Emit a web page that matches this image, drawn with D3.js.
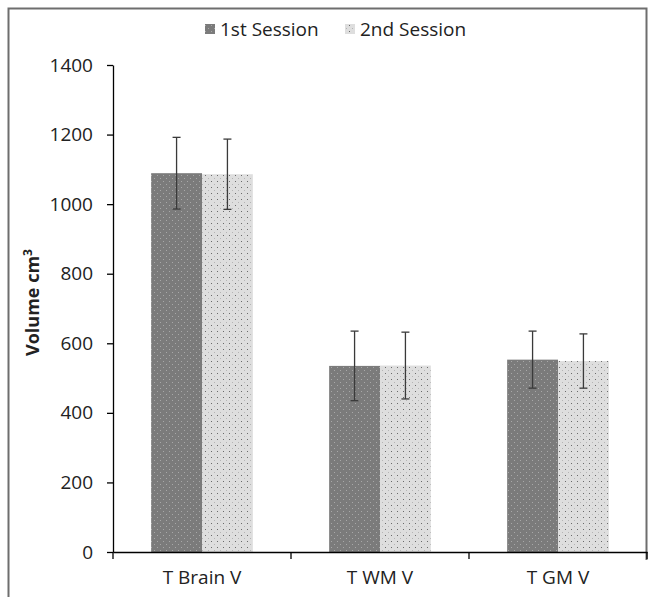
<!DOCTYPE html>
<html>
<head>
<meta charset="utf-8">
<script src="https://cdn.jsdelivr.net/npm/d3@7"></script>
<style>
  body { margin: 0; background: #fff; }
  svg text { font-family: "Open Sans", "Noto Sans", sans-serif; fill: #222; }
</style>
</head>
<body>
<div id="chart"></div>
<script>
// data
const categories = ["T Brain V", "T WM V", "T GM V"];
const sessions = ["1st Session", "2nd Session"];
const session1 = [1089, 535, 553];
const session2 = [1086, 536, 549];
const err1 = [103, 100, 82];
const err2 = [101, 96, 78];
const yTicks = [0, 200, 400, 600, 800, 1000, 1200, 1400];

const width = 653, height = 597;
const margin = {left: 113, right: 6, top: 65, bottom: 45};

const svg = d3.select("#chart")
    .append("svg")
    .attr("width", width)
    .attr("height", height);

// dotted fills
const defs = svg.append("defs");
const pDark = defs.append("pattern").attr("id", "dark")
    .attr("patternUnits", "userSpaceOnUse").attr("width", 6).attr("height", 6);
pDark.append("rect").attr("width", 6).attr("height", 6).attr("fill", "#7b7b7b");
pDark.append("rect").attr("x", 1).attr("y", 1).attr("width", 1).attr("height", 1).attr("fill", "#a8a8a8");
pDark.append("rect").attr("x", 4).attr("y", 4).attr("width", 1).attr("height", 1).attr("fill", "#a8a8a8");

const pLight = defs.append("pattern").attr("id", "light")
    .attr("patternUnits", "userSpaceOnUse").attr("width", 6).attr("height", 6);
pLight.append("rect").attr("width", 6).attr("height", 6).attr("fill", "#dedede");
pLight.append("rect").attr("x", 1).attr("y", 1).attr("width", 1).attr("height", 1).attr("fill", "#6a6a6a");
pLight.append("rect").attr("x", 4).attr("y", 4).attr("width", 1).attr("height", 1).attr("fill", "#b5b5b5");

const fills = ["url(#dark)", "url(#light)"];

// outer frame
svg.append("path")
    .attr("d", "M8.5,597 V8.5 H646.5 V560")
    .attr("fill", "none")
    .attr("stroke", "#6e6e6e")
    .attr("stroke-width", 2);

const x = d3.scaleBand()
    .domain(categories)
    .range([margin.left, width - margin.right]);

const y = d3.scaleLinear()
    .domain([0, 1400])
    .range([height - margin.bottom, margin.top]);

const inner = d3.scaleBand()
    .domain(sessions)
    .range([0, x.bandwidth()])
    .paddingOuter(0.75);

const rows = [];
categories.forEach((c, i) => {
    rows.push({cat: c, s: 0, v: session1[i], e: err1[i]});
    rows.push({cat: c, s: 1, v: session2[i], e: err2[i]});
});

svg.append("g")
    .selectAll("rect")
    .data(rows)
    .enter()
    .append("rect")
    .attr("x", d => x(d.cat) + inner(sessions[d.s]))
    .attr("y", d => y(d.v))
    .attr("width", inner.bandwidth())
    .attr("height", d => y(0) - y(d.v))
    .attr("fill", d => fills[d.s]);

// error bars
const eb = svg.append("g").attr("stroke", "#3a3a3a").attr("stroke-width", 1.3);
rows.forEach(d => {
    const cx = x(d.cat) + inner(sessions[d.s]) + inner.bandwidth() / 2;
    eb.append("line").attr("x1", cx).attr("x2", cx).attr("y1", y(d.v + d.e)).attr("y2", y(d.v - d.e));
    eb.append("line").attr("x1", cx - 4).attr("x2", cx + 4).attr("y1", y(d.v + d.e)).attr("y2", y(d.v + d.e));
    eb.append("line").attr("x1", cx - 4).attr("x2", cx + 4).attr("y1", y(d.v - d.e)).attr("y2", y(d.v - d.e));
});

// axes
const yAxis = svg.append("g")
    .attr("transform", "translate(" + margin.left + ",0)")
    .call(d3.axisLeft(y).tickValues(yTicks).tickFormat(d3.format("d"))
        .tickSize(6).tickPadding(14).tickSizeOuter(0));
yAxis.select(".domain").attr("stroke", "#000").attr("stroke-width", 1.3);
yAxis.selectAll(".tick line").attr("stroke", "#000").attr("stroke-width", 1.3);
yAxis.selectAll("text").style("font-size", "19px").attr("fill", "#222");

const xAxis = svg.append("g")
    .attr("transform", "translate(0," + y(0) + ")")
    .call(d3.axisBottom(x).tickSize(0).tickPadding(19));
xAxis.select(".domain").attr("stroke", "#000").attr("stroke-width", 1.3);
xAxis.selectAll("text").style("font-size", "19px").attr("fill", "#222");

// band separators on x axis
const seps = [x.range()[0]].concat(categories.map(c => x(c) + x.bandwidth()));
xAxis.selectAll(".sep")
    .data(seps)
    .enter()
    .append("line")
    .attr("x1", d => d).attr("x2", d => d)
    .attr("y1", 0).attr("y2", 7)
    .attr("stroke", "#000").attr("stroke-width", 1.3);

// y label
svg.append("text")
    .attr("transform", "translate(39," + (y(700) - 6) + ") rotate(-90)")
    .attr("text-anchor", "middle")
    .style("font-size", "18px")
    .style("font-weight", "bold")
    .text("Volume cm")
    .append("tspan")
    .attr("dy", -7)
    .style("font-size", "12px")
    .text("3");

// legend
const legendX = [205, 345];
const legend = svg.append("g");
sessions.forEach((s, i) => {
    legend.append("rect")
        .attr("x", legendX[i]).attr("y", 24)
        .attr("width", 10).attr("height", 10)
        .attr("fill", fills[i]);
    legend.append("text")
        .attr("x", legendX[i] + 15).attr("y", 36)
        .style("font-size", "19px")
        .text(s);
});
</script>
</body>
</html>
